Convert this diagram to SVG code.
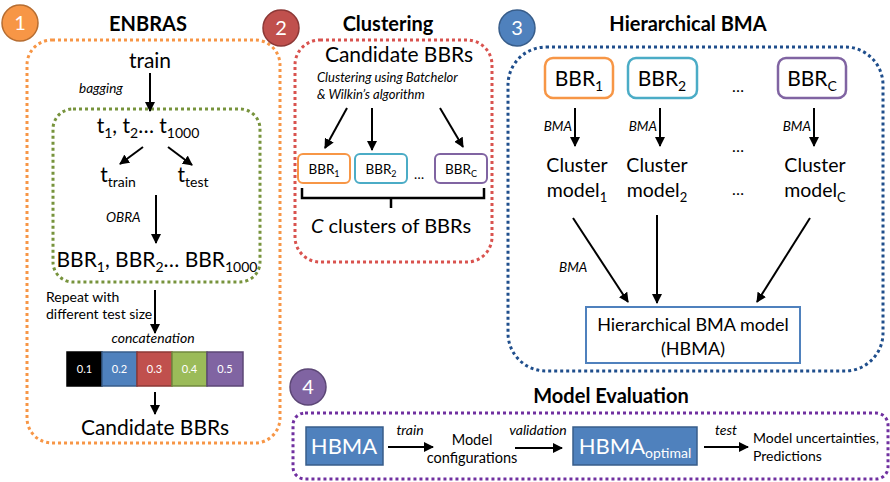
<svg xmlns="http://www.w3.org/2000/svg" width="890" height="482" viewBox="0 0 890 482">
<defs>
<marker id="ah" viewBox="0 0 10 10" refX="9" refY="5" markerWidth="5" markerHeight="5" orient="auto" markerUnits="strokeWidth">
<path d="M0,0 L10,5 L0,10 z" fill="#000"/>
</marker>
<style>
text{font-family:Lato,"Liberation Sans",sans-serif;fill:#000}
.t{font-size:20px;font-weight:bold}
.big{font-size:21px}
.it{font-style:italic;font-size:13.5px}
.sm{font-size:13.5px}
.num{font-size:20px;fill:#fff;text-anchor:middle}
.mid{text-anchor:middle}
.dot{fill:none;stroke-width:3;stroke-dasharray:3 3}
.arr{stroke:#000;stroke-width:2;fill:none;marker-end:url(#ah)}
.cell{stroke-width:1.5}
.cellt{font-size:11px;fill:#fff;text-anchor:middle}
.bb{fill:#fff;stroke-width:2.5}
.hb{fill:#4F81BD;stroke:#385D8A;stroke-width:1.5}
</style>
</defs>
<rect width="890" height="482" fill="#fff"/>

<!-- section 1 -->
<g id="enbras">
<circle cx="20" cy="23" r="18" fill="#F79646" stroke="#B66D31" stroke-width="1.5"/>
<text class="num" x="20" y="30">1</text>
<text class="t mid" x="148" y="31">ENBRAS</text>
<rect class="dot" x="27" y="40" width="253" height="403" rx="25" stroke="#F79646"/>
<rect class="dot" x="53" y="109" width="207" height="173" rx="20" stroke="#77933C"/>
<text class="big mid" x="150" y="68">train</text>
<text class="it" x="79" y="93">bagging</text>
<text class="big mid" x="148" y="133">t<tspan font-size="14" dy="5">1</tspan><tspan dy="-5">, t</tspan><tspan font-size="14" dy="5">2</tspan><tspan dy="-5">… t</tspan><tspan font-size="14" dy="5">1000</tspan></text>
<text class="big mid" x="118" y="182">t<tspan font-size="14" dy="5">train</tspan></text>
<text class="big mid" x="193" y="182">t<tspan font-size="14" dy="5">test</tspan></text>
<text class="it" x="106" y="222">OBRA</text>
<text class="big mid" x="157" y="267">BBR<tspan font-size="14" dy="5">1</tspan><tspan dy="-5">, BBR</tspan><tspan font-size="14" dy="5">2</tspan><tspan dy="-5">… BBR</tspan><tspan font-size="14" dy="5">1000</tspan></text>
<text class="sm" x="46" y="302" style="font-size:14px">Repeat with</text>
<text class="sm" x="46" y="319" style="font-size:14px">different test size</text>
<text class="it mid" x="153" y="343" style="font-size:14px">concatenation</text>
<rect class="cell" x="67" y="352" width="35" height="34" fill="#000" stroke="#000"/>
<rect class="cell" x="102" y="352" width="35" height="34" fill="#4F81BD" stroke="#385D8A"/>
<rect class="cell" x="137" y="352" width="35" height="34" fill="#C0504D" stroke="#8C3836"/>
<rect class="cell" x="172" y="352" width="35" height="34" fill="#9BBB59" stroke="#71893F"/>
<rect class="cell" x="207" y="352" width="36" height="34" fill="#8064A2" stroke="#5C4776"/>
<text class="cellt" x="84.5" y="373">0.1</text>
<text class="cellt" x="119.5" y="373">0.2</text>
<text class="cellt" x="154.5" y="373">0.3</text>
<text class="cellt" x="189.5" y="373">0.4</text>
<text class="cellt" x="225" y="373">0.5</text>
<text class="big mid" x="155" y="435">Candidate BBRs</text>
</g>

<!-- section 2 -->
<g id="clustering">
<circle cx="281" cy="28" r="18" fill="#C0504D" stroke="#8C3836" stroke-width="1.5"/>
<text class="num" x="281" y="35">2</text>
<text class="t mid" x="388" y="31">Clustering</text>
<rect class="dot" x="295" y="40" width="197" height="222" rx="25" stroke="#D9534F"/>
<text class="big mid" x="399" y="62">Candidate BBRs</text>
<text class="it" x="317" y="82" style="font-size:13px">Clustering using Batchelor</text>
<text class="it" x="317" y="99" style="font-size:13px">&amp; Wilkin’s algorithm</text>
<rect class="bb" x="298" y="154" width="52" height="29" rx="5" stroke="#F79646" style="stroke-width:2"/>
<rect class="bb" x="355" y="154" width="52" height="29" rx="5" stroke="#4BACC6" style="stroke-width:2"/>
<rect class="bb" x="435" y="154" width="52" height="29" rx="5" stroke="#8064A2" style="stroke-width:2"/>
<text class="sm mid" x="324" y="174">BBR<tspan font-size="9" dy="3">1</tspan></text>
<text class="sm mid" x="381" y="174">BBR<tspan font-size="9" dy="3">2</tspan></text>
<text class="sm mid" x="461" y="174">BBR<tspan font-size="9" dy="3">C</tspan></text>
<text class="sm mid" x="419" y="179">…</text>
<path d="M302,188 L302,198 L484,198 L484,188 M391,198 L391,208" fill="none" stroke="#000" stroke-width="2.5"/>
<text class="mid" x="391" y="233" style="font-size:20px"><tspan font-style="italic">C</tspan> clusters of BBRs</text>
</g>

<!-- section 3 -->
<g id="hbma">
<circle cx="517" cy="28" r="18" fill="#4F81BD" stroke="#385D8A" stroke-width="1.5"/>
<text class="num" x="517" y="35">3</text>
<text class="t mid" x="688" y="31">Hierarchical BMA</text>
<rect class="dot" x="508" y="47" width="375" height="324" rx="38" stroke="#1F4E8C"/>
<rect class="bb" x="545" y="58" width="68" height="40" rx="8" stroke="#F79646"/>
<rect class="bb" x="628" y="58" width="69" height="40" rx="8" stroke="#4BACC6"/>
<rect class="bb" x="778" y="58" width="68" height="40" rx="8" stroke="#8064A2"/>
<text class="big mid" x="579" y="86">BBR<tspan font-size="14" dy="5">1</tspan></text>
<text class="big mid" x="662" y="86">BBR<tspan font-size="14" dy="5">2</tspan></text>
<text class="big mid" x="812" y="86">BBR<tspan font-size="14" dy="5">C</tspan></text>
<text class="mid" x="738" y="92" style="font-size:16px">…</text>
<text class="it" x="572" y="131" text-anchor="end">BMA</text>
<text class="it" x="657" y="131" text-anchor="end">BMA</text>
<text class="it" x="811" y="131" text-anchor="end">BMA</text>
<text class="mid" x="738" y="152" style="font-size:16px">…</text>
<text class="mid" x="577" y="172" style="font-size:19.5px">Cluster</text>
<text class="mid" x="577" y="197" style="font-size:19.5px">model<tspan font-size="13" dy="5">1</tspan></text>
<text class="mid" x="657" y="172" style="font-size:19.5px">Cluster</text>
<text class="mid" x="657" y="197" style="font-size:19.5px">model<tspan font-size="13" dy="5">2</tspan></text>
<text class="mid" x="815" y="172" style="font-size:19.5px">Cluster</text>
<text class="mid" x="815" y="197" style="font-size:19.5px">model<tspan font-size="13" dy="5">C</tspan></text>
<text class="mid" x="738" y="195" style="font-size:16px">…</text>
<text class="it" x="559" y="272">BMA</text>
<rect x="586" y="307" width="214" height="56" fill="#fff" stroke="#4F81BD" stroke-width="2"/>
<text class="mid" x="693" y="331" style="font-size:18px">Hierarchical BMA model</text>
<text class="mid" x="693" y="355" style="font-size:18px">(HBMA)</text>
</g>

<!-- section 4 -->
<g id="evaluation">
<circle cx="308" cy="387" r="18" fill="#8064A2" stroke="#5C4776" stroke-width="1.5"/>
<text class="num" x="308" y="394">4</text>
<text class="t mid" x="611" y="403">Model Evaluation</text>
<rect class="dot" x="293" y="413" width="595" height="66" rx="12" stroke="#7030A0"/>
<rect class="hb" x="306" y="427" width="77" height="38"/>
<text class="mid" x="344" y="454" style="font-size:22px;fill:#fff">HBMA</text>
<text class="it mid" x="410" y="435" style="font-size:14px">train</text>
<text class="mid" x="472" y="445" style="font-size:14.5px">Model</text>
<text class="mid" x="472" y="463" style="font-size:14.5px">configurations</text>
<text class="it mid" x="538" y="435" style="font-size:14px">validation</text>
<rect class="hb" x="573" y="427" width="124" height="38"/>
<text class="mid" x="635" y="454" style="font-size:22px;fill:#fff">HBMA<tspan font-size="14" dy="4" style="fill:#fff">optimal</tspan></text>
<text class="it mid" x="726" y="435" style="font-size:14px">test</text>
<text x="753" y="443" style="font-size:14px">Model uncertainties,</text>
<text x="753" y="461" style="font-size:14px">Predictions</text>
</g>

<!-- connectors -->
<g id="connectors">
<path class="arr" d="M150,73 L150,111"/>
<path class="arr" d="M143,147 L120,164"/>
<path class="arr" d="M168,147 L192,165"/>
<path class="arr" d="M156,195 L156,243"/>
<path class="arr" d="M155,290 L155,333"/>
<path class="arr" d="M155,392 L155,414"/>
<path class="arr" d="M347,108 L325,148"/>
<path class="arr" d="M372,108 L372,150"/>
<path class="arr" d="M440,108 L463,147"/>
<path class="arr" d="M575,108 L575,146"/>
<path class="arr" d="M660,108 L660,146"/>
<path class="arr" d="M814,108 L814,146"/>
<path class="arr" d="M573,218 L628,302"/>
<path class="arr" d="M657,215 L657,303"/>
<path class="arr" d="M810,218 L757,302"/>
<path class="arr" d="M388,447 L433,447"/>
<path class="arr" d="M515,448 L562,448"/>
<path class="arr" d="M704,447 L748,447"/>
</g>
</svg>
